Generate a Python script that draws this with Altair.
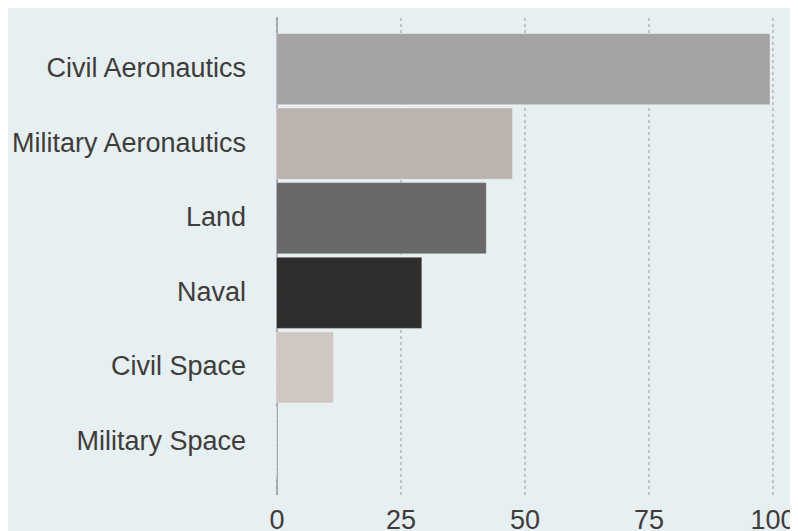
import altair as alt
import pandas as pd

categories = ["Civil Aeronautics", "Military Aeronautics", "Land", "Naval", "Civil Space", "Military Space"]
values = [99.5, 47.6, 42.3, 29.3, 11.5, 0]
colors = ["#a5a4a2", "#bbb3ae", "#696969", "#302e2c", "#cfc7c2", "#c8c0bb"]
x_ticks = [0, 25, 50, 75, 100]

df = pd.DataFrame({"category": categories, "value": values})

font = "Liberation Sans"
bg = "#e6eff2"

chart = alt.Chart(df).mark_bar(
    stroke="#ffffff", strokeOpacity=0.35, strokeWidth=1
).encode(
    y=alt.Y("category:N", sort=categories, title=None,
            scale=alt.Scale(paddingInner=0.045, paddingOuter=0.227),
            axis=alt.Axis(domain=True, domainColor="#9a9a9a", domainWidth=1.5,
                          ticks=False, grid=False, labelFont=font, labelFontSize=27,
                          labelColor="#3f3c3a", labelPadding=31, labelLimit=400)),
    x=alt.X("value:Q", title=None,
            scale=alt.Scale(domain=[0, 100], nice=False),
            axis=alt.Axis(values=x_ticks, domain=False, ticks=False, grid=True,
                          gridDash=[3, 3], gridColor="#9a9a9a", gridWidth=1,
                          labelFont=font, labelFontSize=27, labelColor="#3f3c3a",
                          labelPadding=13, labelBaseline="top", labelFlush=False)),
    color=alt.Color("category:N", scale=alt.Scale(domain=categories, range=colors), legend=None),
).properties(
    width=496, height=478,
    autosize=alt.AutoSizeParams(type="none"),
    padding={"left": 268.5, "top": 8.5, "right": 17, "bottom": 40},
    background=bg,
).configure_view(stroke=None)

chart.save("out.html", embed_options={"renderer": "svg", "actions": False})
